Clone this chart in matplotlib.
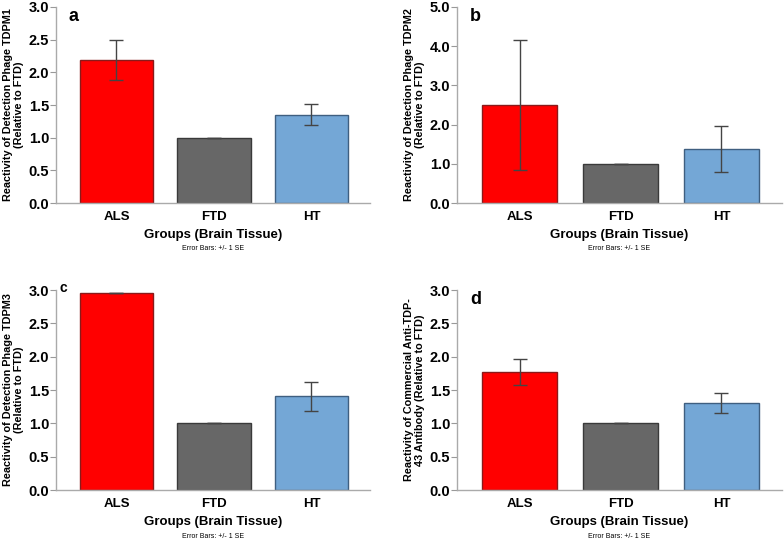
import matplotlib
matplotlib.use("Agg")
import matplotlib.pyplot as plt
import numpy as np

plt.rcParams['font.family'] = ['Liberation Sans', 'DejaVu Sans']

groups = ["ALS", "FTD", "HT"]

vals_a = [2.19, 1.00, 1.35]
hi_a = [2.50, 1.00, 1.51]
lo_a = [1.89, 1.00, 1.19]

vals_b = [2.50, 1.00, 1.38]
hi_b = [4.17, 1.00, 1.96]
lo_b = [0.83, 1.00, 0.79]

vals_c = [2.95, 1.00, 1.41]
hi_c = [2.95, 1.00, 1.62]
lo_c = [2.95, 1.00, 1.19]

vals_d = [1.77, 1.00, 1.31]
hi_d = [1.97, 1.00, 1.46]
lo_d = [1.57, 1.00, 1.15]

ylabels = ["Reactivity of Detection Phage TDPM1\n(Relative to FTD)",
           "Reactivity of Detection Phage TDPM2\n(Relative to FTD)",
           "Reactivity of Detection Phage TDPM3\n(Relative to FTD)",
           "Reactivity of Commercial Anti-TDP-\n43 Antibody (Relative to FTD)"]
letters = ["a", "b", "c", "d"]
ymaxes = [3.0, 5.0, 3.0, 3.0]
ysteps = [0.5, 1.0, 0.5, 0.5]

fills = ["#ff0000", "#676767", "#74a7d6"]
edges = ["#8a1a1a", "#3a3a3a", "#3f5f80"]

fig = plt.figure(figsize=(7.84, 5.40), dpi=100)
W, H = 784, 540
boxes = [(56, 7, 370, 203), (457, 7, 782, 203), (56, 290, 370, 490), (457, 290, 782, 490)]
data = [(vals_a, hi_a, lo_a), (vals_b, hi_b, lo_b), (vals_c, hi_c, lo_c), (vals_d, hi_d, lo_d)]

for i, (box, (v, hi, lo)) in enumerate(zip(boxes, data)):
    x0, y0, x1, y1 = box
    ax = fig.add_axes([x0 / W, 1 - y1 / H, (x1 - x0) / W, (y1 - y0) / H])
    x = np.arange(len(groups))
    ax.bar(x, v, width=0.75, color=fills, edgecolor=edges, linewidth=1.0, zorder=2)
    yerr = [np.array(v) - np.array(lo), np.array(hi) - np.array(v)]
    ax.errorbar(x, v, yerr=yerr, fmt='none', ecolor='#444444', elinewidth=1.0,
                capsize=5, capthick=1.0, zorder=3)
    ax.set_xlim(-0.62, 2.6)
    ax.set_ylim(0, ymaxes[i])
    ticks = np.arange(0, ymaxes[i] + 1e-9, ysteps[i])
    ax.set_yticks(ticks)
    ax.set_yticklabels([f"{t:.1f}" for t in ticks], fontsize=10.5, fontweight='bold')
    ax.set_xticks(x)
    ax.set_xticklabels(groups, fontsize=9.5, fontweight='bold')
    ax.tick_params(axis='x', length=0, pad=6)
    ax.tick_params(axis='y', length=4, color='#999999', pad=1)
    for s in ['top', 'right']:
        ax.spines[s].set_visible(False)
    for s in ['left', 'bottom']:
        ax.spines[s].set_color('#aaaaaa')
        ax.spines[s].set_linewidth(1.0)
    ax.set_xlabel("Groups (Brain Tissue)", fontsize=9.5, fontweight='bold', labelpad=4)
    ax.set_ylabel(ylabels[i], fontsize=7.8, fontweight='bold', labelpad=3)
    ax.text(0.5, -0.23, "Error Bars: +/- 1 SE", transform=ax.transAxes,
            ha='center', va='center', fontsize=5)
    if letters[i] == 'c':
        ax.text(0.01, 1.045, 'c', transform=ax.transAxes, fontsize=10, fontweight='bold',
                ha='left', va='top')
    else:
        ax.text(0.04, 0.995, letters[i], transform=ax.transAxes, fontsize=13,
                fontweight='bold', ha='left', va='top')

fig.savefig("out.png", dpi=100)
